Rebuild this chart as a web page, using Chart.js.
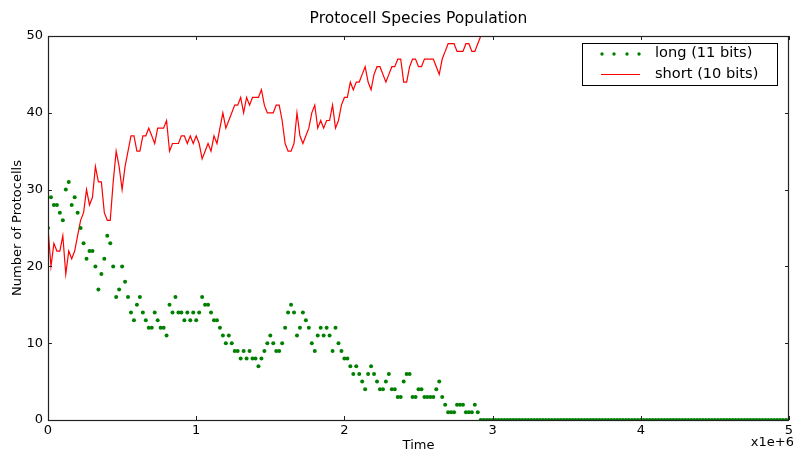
<!DOCTYPE html>
<html>
<head>
<meta charset="utf-8">
<script src="https://cdn.jsdelivr.net/npm/chart.js@4.4.1/dist/chart.umd.min.js"></script>
<style>
  html, body { margin: 0; padding: 0; background: #fff; }
  #wrap { width: 793px; height: 449px; }
</style>
</head>
<body>
<div id="wrap"><canvas id="popChart" width="793" height="449"></canvas></div>
<script>
// samples are taken every 20000 time steps, starting at t = 0
const sampleStep = 20000;

// long (11 bits) protocell count
const longVals = [
  25,29,28,28,27,26,30,31,28,29,
  27,25,23,21,22,22,20,17,19,21,
  24,23,20,16,17,20,18,16,14,13,
  15,16,14,13,12,12,14,13,12,12,
  11,15,14,16,14,14,13,14,13,14,
  13,14,16,15,15,14,13,13,12,11,
  10,11,10,9,9,8,9,8,9,8,
  8,7,8,9,10,11,10,9,9,10,
  12,14,15,14,11,12,14,13,12,10,
  9,11,12,11,12,11,9,12,10,9,
  8,8,7,6,7,6,5,4,6,7,
  6,5,4,4,5,6,4,4,3,3,
  5,6,6,3,3,4,4,3,3,3,
  3,4,5,3,2,1,1,1,2,2,
  2,1,1,1,2,1,
  0,0,0,0,0,0,0,0,0,0,0,0,0,0,0,
  0,0,0,0,0,0,0,0,0,0,0,0,0,0,0,
  0,0,0,0,0,0,0,0,0,0,0,0,0,0,0,
  0,0,0,0,0,0,0,0,0,0,0,0,0,0,0,
  0,0,0,0,0,0,0,0,0,0,0,0,0,0,0,
  0,0,0,0,0,0,0,0,0,0,0,0,0,0,0,
  0,0,0,0,0,0,0,0,0,0,0,0,0,0,0
];

// short (10 bits) protocell count (runs off the top after ~2.9e6)
const shortVals = [
  25,20,23,22,22,24,19,22,21,22,
  24,26,27,30,28,29,33,31,31,27,
  26,26,31,35,33,30,33,35,37,37,
  35,35,37,37,38,37,36,38,38,38,
  39,35,36,36,36,37,37,36,37,36,
  37,36,34,35,36,35,37,36,38,40,
  38,39,40,41,41,42,40,42,41,42,
  42,42,43,41,40,40,40,41,41,39,
  36,35,35,36,40,37,36,37,38,40,
  41,38,39,38,39,39,41,38,39,41,
  42,42,44,43,44,44,45,46,44,43,
  45,46,46,45,44,45,46,46,47,47,
  44,44,46,47,47,46,46,47,47,47,
  47,46,45,47,48,49,49,49,48,48,
  48,49,49,48,48,49,50,52,54,55
];

const xTicks = [0, 1e6, 2e6, 3e6, 4e6, 5e6];
const xTickLabels = ['0', '1', '2', '3', '4', '5'];
const yTicks = [0, 10, 20, 30, 40, 50];
const seriesNames = ['long (11 bits)', 'short (10 bits)'];

const FONT = '"DejaVu Sans", sans-serif';

function toPoints(vals) {
  return vals.map((v, i) => ({ x: i * sampleStep, y: v }));
}

const decor = {
  id: 'decor',
  afterDraw(chart) {
    const ctx = chart.ctx;
    const xs = chart.scales.x, ys = chart.scales.y;
    const a = chart.chartArea;
    ctx.save();

    // frame
    ctx.strokeStyle = '#222';
    ctx.lineWidth = 1.2;
    ctx.strokeRect(a.left + 0.5, a.top + 0.5, a.right - a.left - 1, a.bottom - a.top);

    // inward ticks on all sides
    ctx.lineWidth = 1;
    ctx.beginPath();
    xTicks.forEach(t => {
      const px = Math.round(xs.getPixelForValue(t)) + 0.5;
      ctx.moveTo(px, a.bottom); ctx.lineTo(px, a.bottom - 4);
      ctx.moveTo(px, a.top); ctx.lineTo(px, a.top + 4);
    });
    yTicks.forEach(t => {
      const py = Math.round(ys.getPixelForValue(t)) + 0.5;
      ctx.moveTo(a.left, py); ctx.lineTo(a.left + 4, py);
      ctx.moveTo(a.right, py); ctx.lineTo(a.right - 4, py);
    });
    ctx.stroke();

    // tick labels
    ctx.fillStyle = '#000';
    ctx.font = '13px ' + FONT;
    ctx.textAlign = 'center';
    ctx.textBaseline = 'top';
    xTicks.forEach((t, i) => {
      ctx.fillText(xTickLabels[i], xs.getPixelForValue(t), a.bottom + 4);
    });
    ctx.textAlign = 'right';
    ctx.textBaseline = 'middle';
    yTicks.forEach(t => {
      ctx.fillText(String(t), a.left - 5, ys.getPixelForValue(t));
    });

    // offset text
    ctx.textAlign = 'right';
    ctx.textBaseline = 'alphabetic';
    ctx.fillText('x1e+6', 794, 446);

    // axis titles
    ctx.textAlign = 'center';
    ctx.fillText('Time', (a.left + a.right) / 2, 449);
    ctx.save();
    ctx.translate(21, (a.top + a.bottom) / 2);
    ctx.rotate(-Math.PI / 2);
    ctx.textBaseline = 'alphabetic';
    ctx.fillText('Number of Protocells', 0, 0);
    ctx.restore();

    // title
    ctx.font = '15.5px ' + FONT;
    ctx.textBaseline = 'middle';
    ctx.fillText('Protocell Species Population', (a.left + a.right) / 2, 19);

    // legend
    const lx = 582, ly = 43, lw = 195, lh = 42;
    ctx.fillStyle = '#fff';
    ctx.fillRect(lx, ly, lw, lh);
    ctx.strokeStyle = '#000';
    ctx.strokeRect(lx + 0.5, ly + 0.5, lw, lh);
    ctx.fillStyle = 'green';
    [602, 614, 627, 639].forEach(dx => {
      ctx.beginPath();
      ctx.arc(dx, 54, 1.7, 0, Math.PI * 2);
      ctx.fill();
    });
    ctx.strokeStyle = 'red';
    ctx.beginPath();
    ctx.moveTo(601, 74.5); ctx.lineTo(640, 74.5);
    ctx.stroke();
    ctx.fillStyle = '#000';
    ctx.font = '14.6px ' + FONT;
    ctx.textAlign = 'left';
    ctx.textBaseline = 'middle';
    ctx.fillText(seriesNames[0], 655, 53);
    ctx.fillText(seriesNames[1], 655, 74);

    ctx.restore();
  }
};

new Chart(document.getElementById('popChart'), {
  type: 'line',
  data: {
    datasets: [
      {
        label: seriesNames[0],
        data: toPoints(longVals),
        showLine: false,
        pointRadius: 2,
        pointBorderWidth: 0,
        pointBackgroundColor: 'green',
        borderColor: 'green'
      },
      {
        label: seriesNames[1],
        data: toPoints(shortVals),
        borderColor: 'red',
        borderWidth: 1.2,
        pointRadius: 0,
        tension: 0
      }
    ]
  },
  options: {
    responsive: false,
    animation: false,
    devicePixelRatio: 1,
    layout: { padding: { top: 36, right: 2, left: 0, bottom: 0 } },
    plugins: { legend: { display: false }, title: { display: false }, tooltip: { enabled: false } },
    scales: {
      x: {
        type: 'linear',
        min: 0, max: 5e6,
        ticks: { display: false },
        grid: { display: false },
        border: { display: false },
        afterFit(s) { s.height = 29; }
      },
      y: {
        min: 0, max: 50,
        ticks: { display: false },
        grid: { display: false },
        border: { display: false },
        afterFit(s) { s.width = 48; }
      }
    }
  },
  plugins: [decor]
});
</script>
</body>
</html>
